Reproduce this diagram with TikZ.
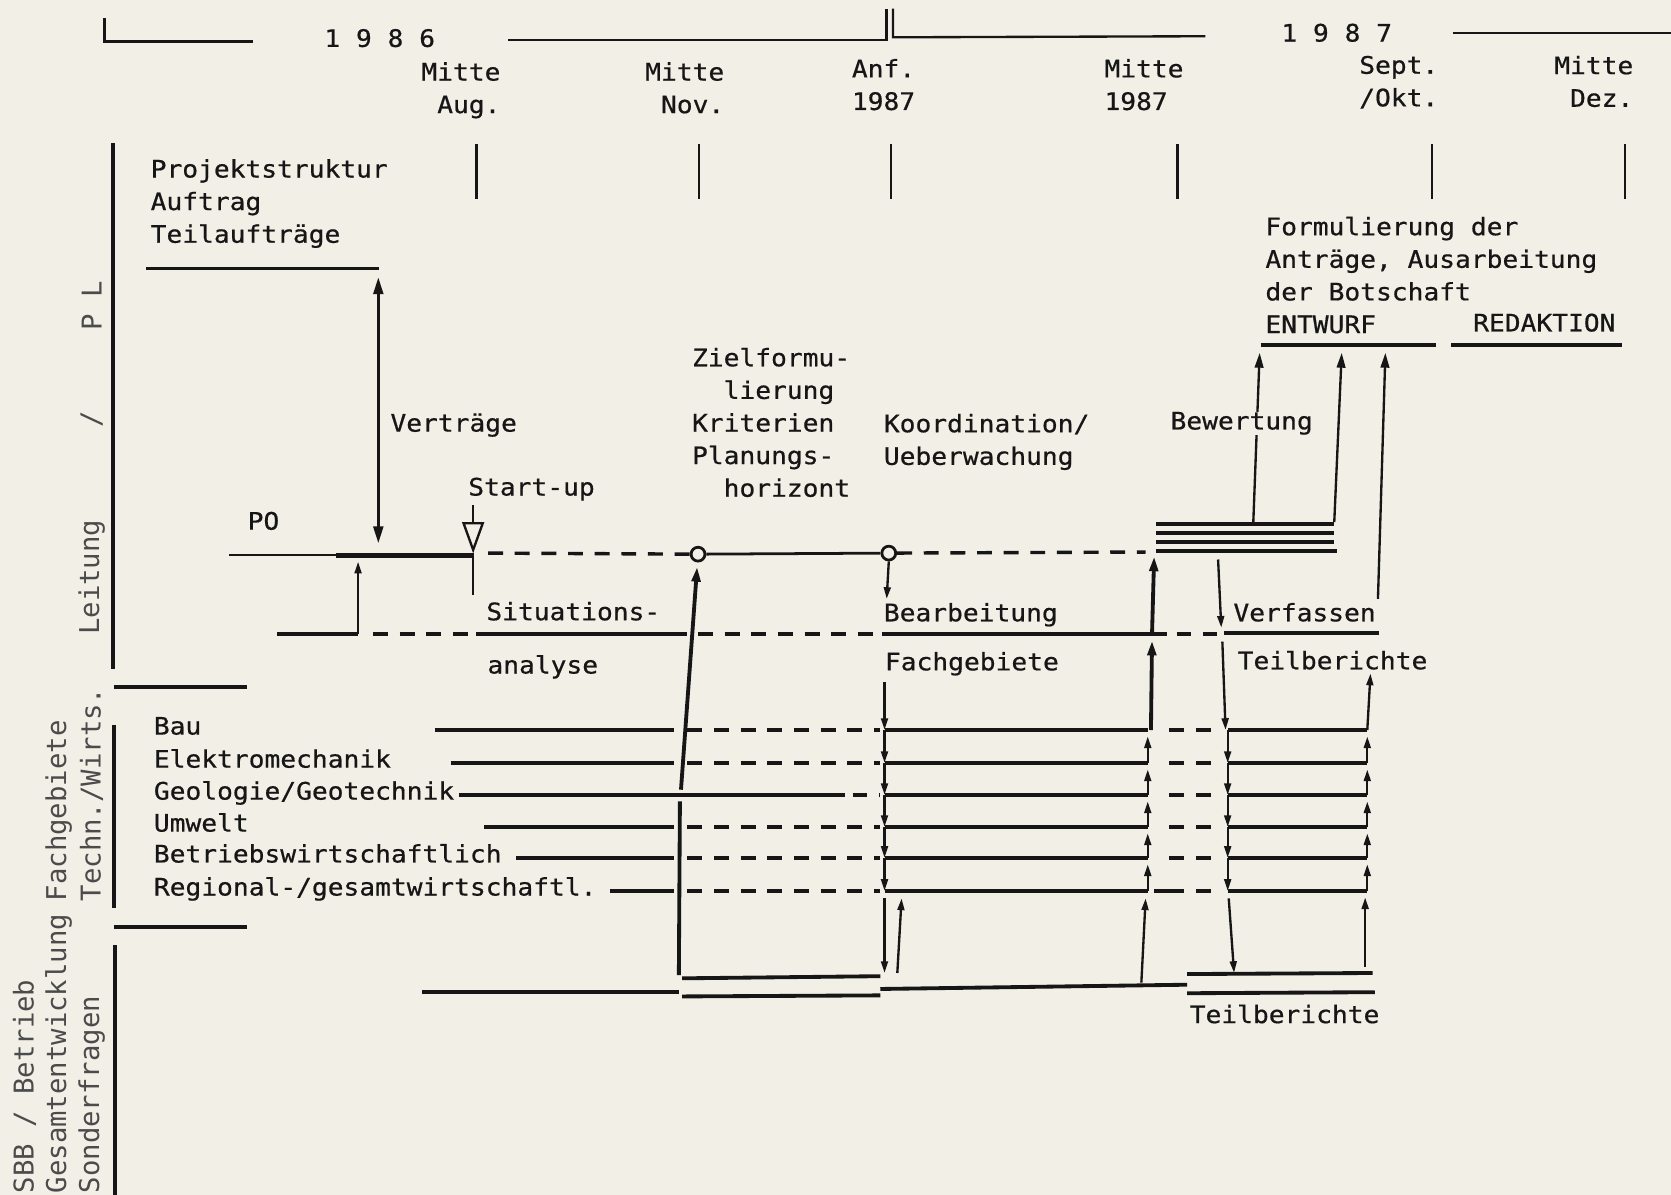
\documentclass[tikz,border=0pt]{standalone}
\usepackage{fontspec}
\usetikzlibrary{arrows.meta}
\newfontfamily\typo[FakeStretch=1.09, FakeBold=0.6]{DejaVu Sans Mono}
\newfontfamily\typov{DejaVu Sans Mono}
\newcommand\lblfont{\typo\fontsize{11.3}{15.3}\selectfont}
\newcommand\sidefont{\typov\fontsize{12.8}{15}\selectfont}
\definecolor{paper}{RGB}{242,239,231}
\definecolor{ink}{RGB}{22,22,22}
\definecolor{sideink}{RGB}{75,75,75}
\tikzset{
  % Text label
  lbl/.style={font=\lblfont, text=ink, inner sep=0pt, align=left},
  % Rotated side label
  side/.style={font=\sidefont, text=sideink, inner sep=0pt, rotate=90, anchor=west},
  % Lines
  ln/.style={draw=ink, line width=1.1pt},
  thk/.style={draw=ink, line width=1.8pt},
  dsh/.style={draw=ink, line width=1.6pt, dash pattern=on 7pt off 5.5pt},
  % Arrows
  arr/.style={ln, -{Triangle[length=5.5pt,width=3.2pt]}},
  bigarr/.style={ln, -{Triangle[length=7pt,width=4pt]}},
  % Milestone ring
  ring/.style={circle, draw=ink, line width=1.3pt, fill=paper, inner sep=0pt, minimum size=6.5pt},
}

\begin{document}
\begin{tikzpicture}[x=0.5pt, y=-0.5pt]
  \path[fill=paper, use as bounding box] (0,0) rectangle (1568,1121);

  % time axis
  \draw[ln] (98,17) |- (237,39);
  \node[lbl, anchor=base west] (yrA) at (304,44) {1 9 8 6};
  \draw[ln] (477,37.5) -- (832,37.5) -- (832,8);
  \draw[ln] (838,8) -- (838,35) -- (1131,34);
  \node[lbl, anchor=base west] (yrB) at (1202,39) {1 9 8 7};
  \draw[ln] (1363,31) -- (1568,31);

  \node[lbl, align=right, anchor=north east] (dAug) at (470,58) {Mitte\\Aug.};
  \node[lbl, align=right, anchor=north east] (dNov) at (680,58) {Mitte\\Nov.};
  \node[lbl, anchor=north west] (dAnf) at (799,55) {Anf.\\1987};
  \node[lbl, anchor=north west] (dMid) at (1036,55) {Mitte\\1987};
  \node[lbl, align=right, anchor=north east] (dSep) at (1350,52) {Sept.\\/Okt.};
  \node[lbl, align=right, anchor=north east] (dDez) at (1533,52) {Mitte\\Dez.};
  \foreach \x in {447,656,836,1105,1344,1525}
    \draw[ln] (\x,135) -- (\x,187);

  % side bars and labels
  \draw[thk] (106,134) -- (106,628);
  \draw[thk] (107,645) -- (232,645);
  \draw[thk] (107,680) -- (107,852);
  \draw[thk] (107,870) -- (232,870);
  \draw[thk] (108,887) -- (108,1121);
  \node[side] (sLeit) at (86,596) {Leitung};
  \node[side, anchor=center] (sSl) at (86,393) {/};
  \node[side, anchor=center] (sPL) at (86,287) {P L};
  \node[side] (sFach) at (55,846) {Fachgebiete};
  \node[side] (sTech) at (86,846) {Techn./Wirts.};
  \node[side] (sSBB) at (23,1120) {SBB / Betrieb};
  \node[side] (sGes) at (55,1120) {Gesamtentwicklung};
  \node[side] (sSon) at (86,1120) {Sonderfragen};

  % PL level
  \node[lbl, anchor=north west] (prj) at (141,149) {Projektstruktur\\Auftrag\\Teilaufträge};
  \draw[thk] (137,252) -- (356,252);
  \draw[ln, line width=1.5pt, {Triangle[length=8pt,width=4.5pt]}-{Triangle[length=8pt,width=4.5pt]}] (355,260) -- (355,510);
  \node[lbl, anchor=base west] (vtr) at (366,405) {Verträge};
  \node[lbl, anchor=base west] (po) at (232,497) {PO};
  \node[lbl, anchor=base west] (su) at (439,465) {Start-up};
  \draw[ln] (215,521) -- (315,521);
  \draw[thk, line width=2.2pt] (315,521) -- (444,521);
  \draw[ln] (444,474) -- (444,491);
  \draw[ln] (435,491) -- (453,491) -- (444,516) -- cycle;
  \draw[ln] (444,519) -- (444,558);
  \draw[arr] (336,595) -- (336,527);

  \node[ring] (m1) at (655,520) {};
  \node[ring] (m2) at (834,519) {};
  \draw[dsh] (458,519) -- (m1);
  \draw[ln, line width=1.3pt] (m1) -- (m2);
  \draw[dsh] (m2) -- (1075,518);
  \node[lbl, anchor=north west] (ziel) at (649,326)
    {Zielformu-\\\hphantom{Zi}lierung\\Kriterien\\Planungs-\\\hphantom{Zi}horizont};
  \node[lbl, anchor=north west] (koord) at (829,388) {Koordination/\\Ueberwachung};
  \draw[arr] (m2.south) -- (832,562);

  % Bewertung stack and Botschaft
  \foreach \y in {492,500,508.5}
    \draw[thk] (1085,\y) -- (1252,\y);
  \draw[thk] (1085,517) -- (1255,517);
  \draw[bigarr] (1176,491) -- (1182,331);
  \node[lbl, anchor=base west, fill=paper] (bew) at (1098,403) {Bewertung};
  \draw[bigarr] (1252,490) -- (1259,331);
  \draw[bigarr] (1293,562) -- (1300,331);
  \node[lbl, anchor=north west] (form) at (1187,203)
    {Formulierung der\\Anträge, Ausarbeitung\\der Botschaft\\ENTWURF};
  \node[lbl, anchor=base west] (redak) at (1382,311) {REDAKTION};
  \draw[thk] (1183,324) -- (1347,324);
  \draw[thk] (1362,324) -- (1522,324);

  % level of Bearbeitung
  \draw[thk] (260,595) -- (336,595);
  \draw[dsh] (350,595) -- (440,595);
  \draw[thk] (447,595) -- (645,595);
  \draw[dsh] (655,595) -- (826,595);
  \draw[thk] (828,595) -- (1095,595);
  \draw[dsh] (1104,595) -- (1142,595);
  \draw[thk] (1149,594) -- (1294,594);
  \node[lbl, anchor=base west] (sit) at (456,582) {Situations-};
  \node[lbl, anchor=base west] (ana) at (457,632) {analyse};
  \node[lbl, anchor=base west] (bearb) at (829,583) {Bearbeitung};
  \node[lbl, anchor=base west] (fach) at (830,629) {Fachgebiete};
  \node[lbl, anchor=base west] (verf) at (1157,583) {Verfassen};
  \node[lbl, anchor=base west] (teil) at (1161,628) {Teilberichte};
  \draw[bigarr, line width=1.8pt] (1081,595) -- (1083,522);
  \draw[bigarr, line width=1.8pt] (1080,685) -- (1081,601);
  \draw[arr] (1143,525) -- (1146,589);
  \draw[arr] (1147,602) -- (1150,685);
  \draw[arr] (1283,685) -- (1286,632);

  % Fachgebiete rows
  \foreach \y/\name/\xa/\xe/\xd [count=\i] in {685/Bau/408/632/645,
      716/Elektromechanik/423/632/645, 746/{Geologie/Geotechnik}/431/793/800,
      776/Umwelt/454/632/645, 805/Betriebswirtschaftlich/484/632/645,
      836/{Regional-/gesamtwirtschaftl.}/572/632/645} {
    \node[lbl, anchor=mid west] (fg\i) at (144,\y) {\name};
    \draw[thk] (\xa,\y) -- (\xe,\y);
    \draw[dsh] (\xd,\y) -- (826,\y);
    \draw[thk] (830,\y) -- (1077,\y);
    \draw[dsh] (1097,\y) -- (1143,\y);
    \draw[thk] (1152,\y) -- (1283,\y);
  }
  \draw[dsh] (1083,836) -- (1097,836);
  \draw[arr] (830,640) -- (830,685);
  \foreach \ya/\yb in {685/716,716/746,746/776,776/805,805/836} {
    \draw[arr] (830,\ya) -- (830,\yb);
    \draw[arr] (1077,\yb) -- (1077,{\ya+6});
    \draw[arr] (1152,\ya) -- (1152,\yb);
    \draw[arr] (1283,\yb) -- (1283,{\ya+6});
  }

  % bottom line
  \draw[thk] (637,915) -- (638,752);
  \draw[bigarr, line width=1.8pt, shorten >=2pt] (639,741) -- (m1);
  \draw[thk] (396,931) -- (637,931);
  \draw[thk] (640,918) -- (826,916);
  \draw[thk] (640,935) -- (826,934);
  \draw[thk] (826,928) -- (1114,924);
  \draw[thk] (1114,914) -- (1288,913);
  \draw[thk] (1114,932) -- (1290,931);
  \draw[arr] (830,843) -- (830,913);
  \draw[arr] (842,913) -- (846,843);
  \draw[arr] (1071,922) -- (1075,843);
  \draw[arr] (1153,843) -- (1158,913);
  \draw[arr] (1281,907) -- (1281,842);
  \node[lbl, anchor=base west] (teilB) at (1116,960) {Teilberichte};
\end{tikzpicture}
\end{document}
